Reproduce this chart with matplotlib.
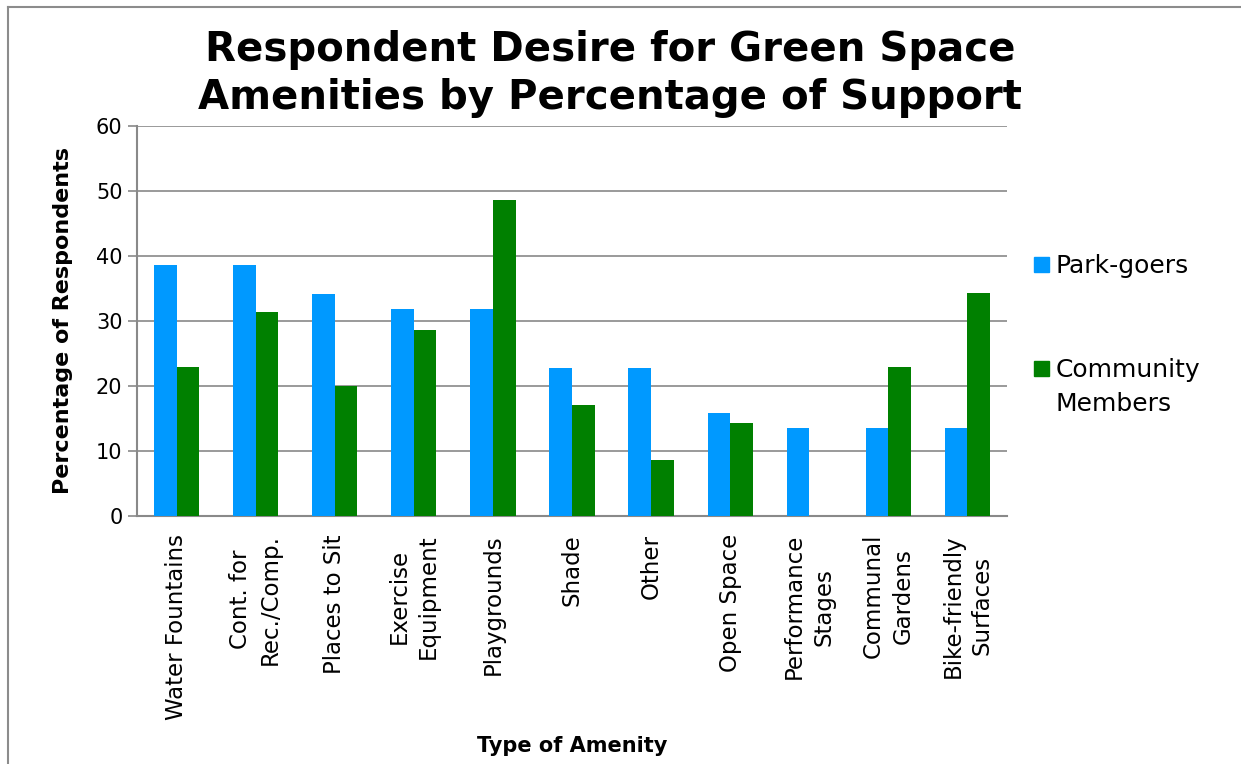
import matplotlib
matplotlib.use("Agg")
import matplotlib.pyplot as plt
import matplotlib.patches as patches
from matplotlib.lines import Line2D
import numpy as np

# amenity categories and share of respondents (%) for each group
amenities = ["Water Fountains", "Cont. for\nRec./Comp.", "Places to Sit",
             "Exercise\nEquipment", "Playgrounds", "Shade", "Other",
             "Open Space", "Performance\nStages", "Communal\nGardens",
             "Bike-friendly\nSurfaces"]
park_goers = [38.6, 38.6, 34.1, 31.8, 31.8, 22.7, 22.7, 15.9, 13.6, 13.6, 13.6]
community = [22.9, 31.4, 20.0, 28.6, 48.6, 17.1, 8.6, 14.3, 0.0, 22.9, 34.3]
series_names = ["Park-goers", "Community\nMembers"]

BLUE = "#0099FF"
GREEN = "#008000"
GRID = "#898989"
FONT = "DejaVu Sans"

W, H = 1241, 764
fig = plt.figure(figsize=(W / 100, H / 100), dpi=100)
ax = fig.add_axes([137 / W, 1 - 516 / H, 870 / W, 390 / H])

x = np.arange(len(amenities))
w = 1 / 3.5  # excel gap width 150%
ax.bar(x - w / 2, park_goers, w, color=BLUE, zorder=3)
ax.bar(x + w / 2, community, w, color=GREEN, zorder=3)

ax.set_xlim(-0.5, len(amenities) - 0.5)
ax.set_ylim(0, 60)
ax.set_yticks(range(0, 61, 10))
ax.grid(axis="y", color=GRID, linewidth=1.2, zorder=0)
for side in ["top", "right"]:
    ax.spines[side].set_visible(False)
for side in ["left", "bottom"]:
    ax.spines[side].set_color(GRID)
    ax.spines[side].set_linewidth(1.5)

ax.tick_params(axis="y", length=6.5, width=1.2, color=GRID, labelsize=15, pad=4)
ax.tick_params(axis="x", length=0, pad=13)
for lbl in ax.get_yticklabels():
    lbl.set_family(FONT)

ax.set_xticks(x)
ax.set_xticklabels(amenities, rotation=90, ha="center", va="top",
                   multialignment="center", fontsize=16.5, family=FONT,
                   linespacing=1.35)

ax.set_ylabel("Percentage of Respondents", fontsize=16, fontweight="bold",
              family=FONT)
ax.yaxis.set_label_coords(-64 / 870, 0.5)
ax.set_xlabel("Type of Amenity", fontsize=15, fontweight="bold", family=FONT)
ax.xaxis.set_label_coords(0.5, -220 / 390)

fig.text(610 / W, 1 - 74 / H, "Respondent Desire for Green Space\nAmenities by Percentage of Support",
         ha="center", va="center", fontsize=29, fontweight="bold", family=FONT,
         linespacing=1.25)

# legend drawn by hand so the marker sits on the first text line
leg_rows = [(series_names[0], BLUE, [273]), (series_names[1], GREEN, [377, 411])]
for name, color, baselines in leg_rows:
    fy = 1 - baselines[0] / H
    fig.patches.append(patches.Rectangle((1034 / W, fy + 1 / H), 15 / W, 15 / H,
                                         transform=fig.transFigure, color=color))
    for line, base in zip(name.split("\n"), baselines):
        fig.text(1056 / W, 1 - base / H, line, ha="left", va="baseline",
                 fontsize=18, family=FONT)

# outer chart frame (left and top edges)
fig.add_artist(Line2D([8 / W, 8 / W], [0, 1 - 7 / H], transform=fig.transFigure,
                      color="#8c8c8c", linewidth=1.5))
fig.add_artist(Line2D([8 / W, 1], [1 - 7 / H, 1 - 7 / H], transform=fig.transFigure,
                      color="#8c8c8c", linewidth=1.5))

fig.savefig("out.png", dpi=100)
